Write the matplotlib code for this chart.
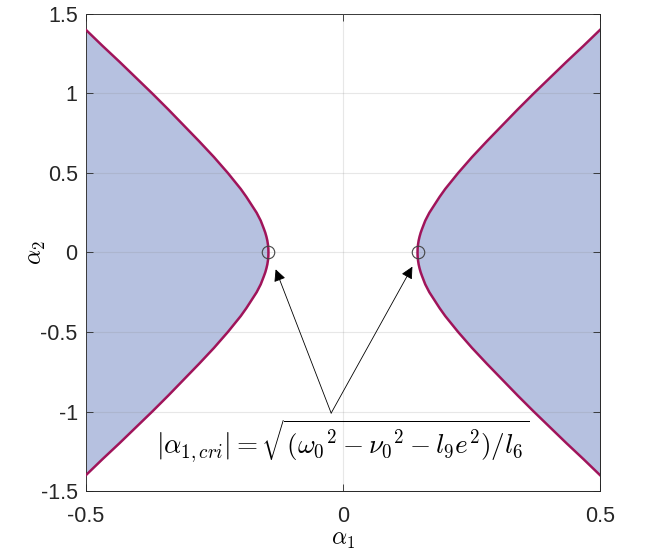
import matplotlib
matplotlib.use('Agg')
import matplotlib.pyplot as plt
import numpy as np

plt.rcParams['font.family'] = ['Liberation Sans', 'DejaVu Sans']
plt.rcParams['mathtext.fontset'] = 'cm'

# boundary of the stable region (right branch, upper half)
alpha2_half = [0.0, 0.025, 0.05, 0.075, 0.1, 0.125, 0.15, 0.2, 0.25, 0.3, 0.35, 0.4, 0.5, 0.6,
               0.7, 0.8, 0.9, 1.0, 1.1, 1.2, 1.3, 1.4]
alpha1_half = [0.145, 0.1452, 0.146, 0.1472, 0.149, 0.1512, 0.154, 0.160, 0.168, 0.178, 0.188,
               0.199, 0.224, 0.251, 0.280, 0.310, 0.340, 0.371, 0.403, 0.435, 0.468, 0.500]
alpha1_cri = 0.145

# critical points and arrow anchors
crit_x = [-alpha1_cri, alpha1_cri]
crit_y = [0, 0]
arrow_tail = (-0.023, -1.01)
arrow_heads = [(-0.131, -0.106), (0.135, -0.089)]

xticks = [-0.5, 0, 0.5]
yticks = [-1.5, -1, -0.5, 0, 0.5, 1, 1.5]
xticklabels = ['-0.5', '0', '0.5']
yticklabels = ['-1.5', '-1', '-0.5', '0', '0.5', '1', '1.5']

# full branch: mirror the half curve about alpha2 = 0
y_br = np.concatenate([-np.array(alpha2_half[::-1]), np.array(alpha2_half[1:])])
x_br = np.concatenate([np.array(alpha1_half[::-1]), np.array(alpha1_half[1:])])

fill_col = '#b6c1e0'
line_col = '#a0145a'
ax_col = '#262626'

fig = plt.figure(figsize=(6.64, 5.53), dpi=100)
ax = fig.add_axes([0.1295, 0.1121, 0.7741, 0.8626])

# shaded regions
ax.fill_betweenx(y_br, x_br, 0.5, color=fill_col, lw=0, zorder=1)
ax.fill_betweenx(y_br, -x_br, -0.5, color=fill_col, lw=0, zorder=1)

# boundary curves
ax.plot(x_br, y_br, color=line_col, lw=1.8, zorder=3)
ax.plot(-x_br, y_br, color=line_col, lw=1.8, zorder=3)

# critical points
ax.plot(crit_x, crit_y, 'o', mfc='none', mec='#444444', ms=9, mew=0.8, zorder=4)

# arrows
for hx, hy in arrow_heads:
    ax.annotate('', xy=(hx, hy), xytext=arrow_tail,
                arrowprops=dict(arrowstyle='-|>', color='black', lw=0.6,
                                mutation_scale=18, shrinkA=0, shrinkB=0),
                zorder=5)

ax.text(0.0, -1.18, r'$|\alpha_{1,cri}| = \sqrt{(\omega_0{}^2 - \nu_0{}^2 - l_9 e^2)/l_6}$',
        ha='center', va='center', fontsize=19.5, zorder=6)

ax.set_xlim(-0.5, 0.5)
ax.set_ylim(-1.5, 1.5)
ax.set_xticks(xticks)
ax.set_xticklabels(xticklabels)
ax.set_yticks(yticks)
ax.set_yticklabels(yticklabels)
ax.tick_params(direction='in', length=5, width=0.6, top=True, right=True,
               labelsize=15.5, colors=ax_col)
ax.tick_params(axis='x', pad=11)
ax.tick_params(axis='y', pad=6)
ax.grid(True, color='#888888', alpha=0.2, lw=0.8, zorder=2)
ax.set_axisbelow(False)
for sp in ax.spines.values():
    sp.set_color(ax_col)
    sp.set_linewidth(0.7)

ax.set_xlabel(r'$\alpha_1$', fontsize=17, va='center')
ax.set_ylabel(r'$\alpha_2$', fontsize=17, va='center')
ax.xaxis.set_label_coords(0.5, -0.103)
ax.yaxis.set_label_coords(-0.095, 0.5)

fig.savefig('out.png', dpi=100)
